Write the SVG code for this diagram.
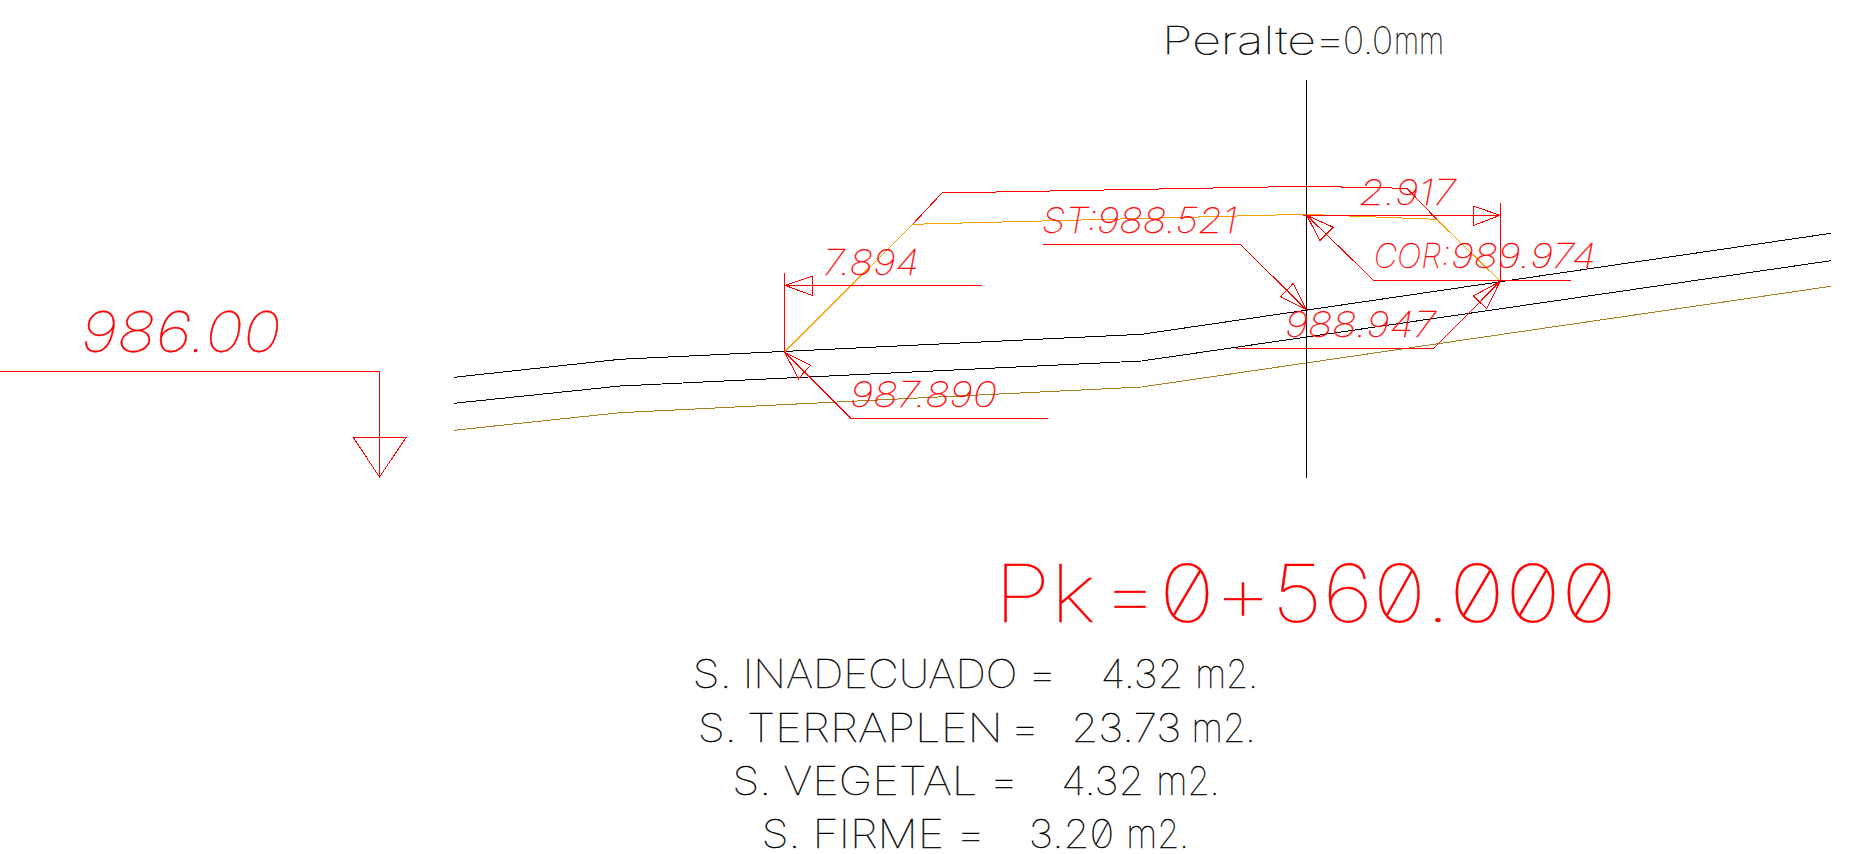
<svg xmlns="http://www.w3.org/2000/svg" width="1852" height="854" viewBox="0 0 1852 854">
<style>
.l{fill:none;stroke-width:1;shape-rendering:crispEdges}
.r{stroke:#ff0000}.k{stroke:#000000}.o{stroke:#ff9e00}.b{stroke:#a67f1e}
text{font-family:"Inter","Roboto","Liberation Sans",sans-serif;font-weight:100;white-space:pre;stroke-width:.35;font-feature-settings:"zero" 0}
.tr{fill:#ff0000;stroke:#ff0000;font-style:italic}
.tk{fill:#000000;stroke:#000000}
.tu{fill:#ff0000;stroke:#ff0000}
.slash{font-feature-settings:"zero" 1}
</style>
<rect width="1852" height="854" fill="#ffffff"/>
<g id="terrain">
<polyline class="l k" points="454,377.3 620,359.3 1141.6,334.3 1831,233.3"/>
<polyline class="l k" points="454,403.3 620,386 1141.6,361 1831,260.7"/>
<polyline class="l b" points="454,430.3 620,412.7 1141.6,387 1831,286.3"/>
<polyline class="l o" points="784.4,352 912.6,224.3 1304,214.3 1436.7,219.3 1500,281"/>
<line class="l k" x1="1306.5" y1="80" x2="1306.5" y2="477.7"/>
</g>
<g id="connectors">
<polyline class="l r" points="0,371 379.5,371 379.5,477"/>
<polygon class="l r" points="353,437 406.4,437 379.5,477"/>
<polyline class="l r" points="912.6,224.3 942,193 1306,186.3 1407,188.3 1436.7,219.3"/>
<polyline class="l r" points="784.4,273 784.4,352"/>
<polyline class="l r" points="785,285.3 982,285.3"/>
<polygon class="l r" points="785,285.3 812.8,276 812.8,295.7"/>
<polyline class="l r" points="784.4,352 850.6,418.3 1048.3,418.3"/>
<polygon class="l r" points="784.4,352 810.4,365.3 798.6,378.7"/>
<polyline class="l r" points="1303,215.3 1500,215.3"/>
<polygon class="l r" points="1500,215.3 1473,206 1473,225.7"/>
<polyline class="l r" points="1500,203 1500,281"/>
<polyline class="l r" points="1043,244.3 1240.2,244.3 1306.7,310"/>
<polygon class="l r" points="1306.7,310 1293.3,283.3 1280.7,296.7"/>
<polyline class="l r" points="1306.7,215.3 1373.3,280 1570.7,280"/>
<polygon class="l r" points="1306.7,215.3 1333.3,227.3 1320,240.7"/>
<polyline class="l r" points="1236,348 1434,348.3 1500,281.5"/>
<polygon class="l r" points="1500,281.5 1473.3,296 1486.7,308.7"/>
</g>
<g id="labels">
<text class="tk" y="54" font-size="37.5"><tspan x="1162" textLength="154" lengthAdjust="spacingAndGlyphs">Peralte</tspan><tspan x="1314" textLength="32" lengthAdjust="spacingAndGlyphs">=</tspan><tspan x="1343" textLength="50" lengthAdjust="spacingAndGlyphs">0.0</tspan><tspan x="1394" textLength="50" lengthAdjust="spacingAndGlyphs">mm</tspan></text>
<text class="tr" x="81" y="352.3" font-size="56" textLength="200" lengthAdjust="spacingAndGlyphs">986.00</text>
<text class="tr" x="823" y="275" font-size="35" textLength="96" lengthAdjust="spacingAndGlyphs">7.894</text>
<text class="tr" x="850" y="406.7" font-size="35" textLength="147" lengthAdjust="spacingAndGlyphs">987.890</text>
<text class="tr" y="232.7" font-size="35"><tspan x="1042" textLength="55.3" lengthAdjust="spacingAndGlyphs">ST:</tspan><tspan x="1097" textLength="140" lengthAdjust="spacingAndGlyphs">988.521</tspan></text>
<text class="tr" x="1359" y="205" font-size="35" textLength="97" lengthAdjust="spacingAndGlyphs">2.917</text>
<text class="tr" y="268.3" font-size="34"><tspan x="1373.7" textLength="76.3" lengthAdjust="spacingAndGlyphs">COR:</tspan><tspan x="1451" textLength="145" lengthAdjust="spacingAndGlyphs">989.974</tspan></text>
<text class="tr" x="1285" y="336.7" font-size="35" textLength="151" lengthAdjust="spacingAndGlyphs">988.947</text>
<text class="tu slash" y="621.7" font-size="79.5"><tspan x="994" textLength="102" lengthAdjust="spacingAndGlyphs">Pk</tspan><tspan x="1101" textLength="58" lengthAdjust="spacingAndGlyphs">=</tspan><tspan x="1159" textLength="56" lengthAdjust="spacingAndGlyphs">0</tspan><tspan x="1214" textLength="58" lengthAdjust="spacingAndGlyphs">+</tspan><tspan x="1272" textLength="154" lengthAdjust="spacingAndGlyphs">560</tspan><tspan x="1425" textLength="26" lengthAdjust="spacingAndGlyphs">.</tspan><tspan x="1449" textLength="168" lengthAdjust="spacingAndGlyphs">000</tspan></text>
<text class="tk" y="688.3" font-size="39.5"><tspan x="692.6" textLength="39.1" lengthAdjust="spacingAndGlyphs">S.</tspan><tspan x="742.7" textLength="274.7" lengthAdjust="spacingAndGlyphs">INADECUADO</tspan> <tspan x="1026.7" textLength="31" lengthAdjust="spacingAndGlyphs">=</tspan>   <tspan x="1100.8" textLength="82.5" lengthAdjust="spacingAndGlyphs">4.32</tspan> <tspan x="1195.2" textLength="62.7" lengthAdjust="spacingAndGlyphs">m2.</tspan></text>
<text class="tk" y="741.7" font-size="39.5"><tspan x="697.7" textLength="39.1" lengthAdjust="spacingAndGlyphs">S.</tspan><tspan x="746.9" textLength="255.9" lengthAdjust="spacingAndGlyphs">TERRAPLEN</tspan> <tspan x="1009.5" textLength="31" lengthAdjust="spacingAndGlyphs">=</tspan>  <tspan x="1071.5" textLength="109.8" lengthAdjust="spacingAndGlyphs">23.73</tspan> <tspan x="1191.4" textLength="63.9" lengthAdjust="spacingAndGlyphs">m2.</tspan></text>
<text class="tk" y="795" font-size="39.5"><tspan x="732.2" textLength="39.1" lengthAdjust="spacingAndGlyphs">S.</tspan><tspan x="783.2" textLength="194.1" lengthAdjust="spacingAndGlyphs">VEGETAL</tspan> <tspan x="988.5" textLength="30.9" lengthAdjust="spacingAndGlyphs">=</tspan>   <tspan x="1061.3" textLength="83" lengthAdjust="spacingAndGlyphs">4.32</tspan> <tspan x="1156.3" textLength="63.3" lengthAdjust="spacingAndGlyphs">m2.</tspan></text>
<text class="tk slash" y="847.7" font-size="39.5"><tspan x="761.5" textLength="39.1" lengthAdjust="spacingAndGlyphs">S.</tspan><tspan x="812.5" textLength="131.6" lengthAdjust="spacingAndGlyphs">FIRME</tspan> <tspan x="955.3" textLength="31" lengthAdjust="spacingAndGlyphs">=</tspan>   <tspan x="1028.7" textLength="85.7" lengthAdjust="spacingAndGlyphs">3.20</tspan> <tspan x="1126.3" textLength="62.7" lengthAdjust="spacingAndGlyphs">m2.</tspan></text>
</g>
</svg>
